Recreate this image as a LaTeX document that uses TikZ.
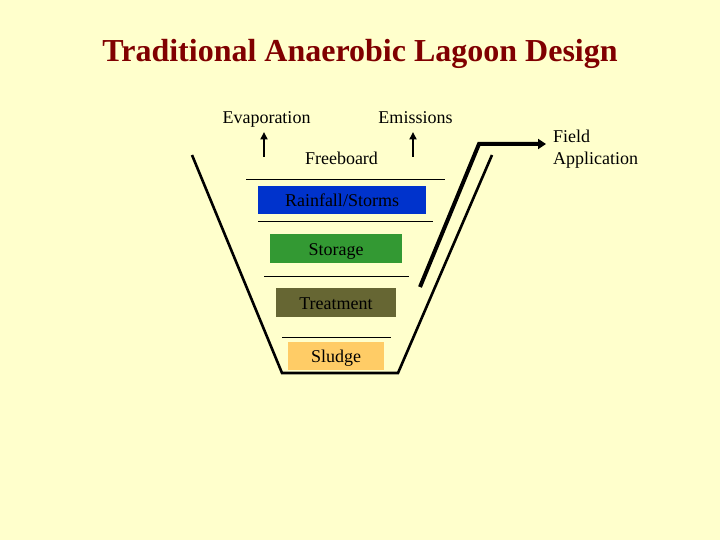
\documentclass[tikz,border=0pt]{standalone}
\usepackage{fontspec}
\setmainfont{Liberation Serif}
\usetikzlibrary{arrows.meta}
\definecolor{paper}{RGB}{255,255,204}
\definecolor{titlered}{RGB}{128,0,0}
\definecolor{rainblue}{RGB}{0,51,204}
\definecolor{storgreen}{RGB}{51,153,51}
\definecolor{treatolive}{RGB}{102,102,51}
\definecolor{sludgetan}{RGB}{255,204,102}
\begin{document}
\begin{tikzpicture}[x=1pt, y=-1pt,
    every node/.style={inner sep=0pt, font=\fontsize{18}{22.7}\selectfont},
    layer/.style={minimum height=28pt, text height=13pt, text depth=0pt},
    wall/.style={line width=2.6pt, black},
    sep/.style={line width=1pt, black},
    rise/.style={line width=2pt, -{Triangle[length=7.5pt,width=7pt]}},
    pipe/.style={line width=4pt, -{Triangle[length=8pt,width=10pt]}}]
    \fill[paper] (0,0) rectangle (720,540);
    \node[anchor=base, text=titlered, font=\fontsize{32}{38}\selectfont\bfseries] (title) at (360,62) {Traditional Anaerobic Lagoon Design};
    \node[anchor=base] (evap) at (266.5,123.5) {Evaporation};
    \node[anchor=base] (emis) at (415.5,123.5) {Emissions};
    \node[anchor=base] (free) at (341.5,165) {Freeboard};
    \node[anchor=north west, align=left] (field) at (553,129.5) {Field\\Application};
    \node[layer, fill=rainblue, minimum width=168pt] (rain) at (342,200) {Rainfall/Storms};
    \node[layer, fill=storgreen, minimum width=132pt, minimum height=29pt] (stor) at (336,248.5) {Storage};
    \node[layer, fill=treatolive, minimum width=120pt, minimum height=29pt] (treat) at (336,302.5) {Treatment};
    \node[layer, fill=sludgetan, minimum width=96pt] (sludge) at (336,356) {Sludge};
    \coordinate (evapfoot) at (264,157);
    \coordinate (evaptip) at (264,132);
    \coordinate (emisfoot) at (413,157);
    \coordinate (emistip) at (413,132);
    \coordinate (pipefoot) at (420,287);
    \coordinate (pipebend) at (479,144);
    \coordinate (pipetip) at (546,144);
    % lagoon walls
    \draw[wall] (192,155) -- (282,373) -- (398,373) -- (492,155);
    % layer boundaries
    \draw[sep] (246,180) -- (445,180);
    \draw[sep] (258,222) -- (433,222);
    \draw[sep] (264,276) -- (409,276);
    \draw[sep] (282,337) -- (391,337);
    \draw[rise] (evapfoot) -- (evaptip);
    \draw[rise] (emisfoot) -- (emistip);
    \draw[pipe] (pipefoot) -- (pipebend) -- (pipetip);
\end{tikzpicture}
\end{document}
